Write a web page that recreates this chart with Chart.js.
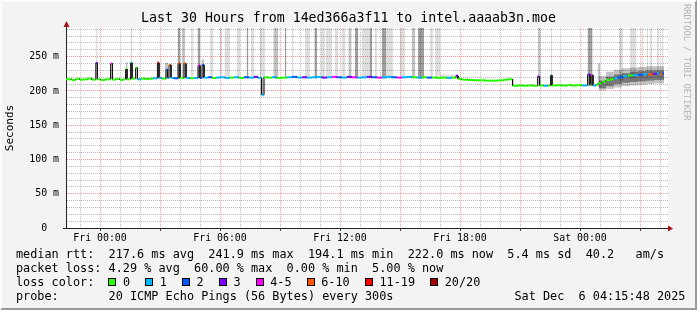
<!DOCTYPE html>
<html>
<head>
<meta charset="utf-8">
<script src="https://cdn.jsdelivr.net/npm/chart.js@4/dist/chart.umd.min.js"></script>
<style>
  html, body { margin: 0; padding: 0; background: #f3f3f3; }
  #frame { position: relative; width: 697px; height: 310px; background: #f3f3f3; overflow: hidden;
           font-family: 'DejaVu Sans Mono', monospace; color: #000; }
  #chart { position: absolute; left: 0; top: 0; }
  .row { position: absolute; left: 16px; font-size: 11.83px; line-height: 14px; white-space: pre; }
  .box { display: inline-block; width: 6px; height: 6px; border: 1px solid #000; margin: 0 6.6px 0 15.1px;
         vertical-align: top; position: relative; top: 3px; }
  .item:first-child .box { margin-left: 14px; }
  #brand { position: absolute; left: 682px; top: 4px; writing-mode: vertical-rl; font-size: 8.8px;
           line-height: 10px; color: #b4b4b4; white-space: pre; }
  #bevel { position: absolute; left: 0; top: 0; width: 697px; height: 310px; box-sizing: border-box;
           border: 2px solid; border-color: #fdfdfd #9a9a9a #9a9a9a #fdfdfd; pointer-events: none; }
</style>
</head>
<body>
<div id="frame">
  <canvas id="chart" width="697" height="310"></canvas>
  <div class="row" style="top:247px">median rtt:  217.6 ms avg  241.9 ms max  194.1 ms min  222.0 ms now  5.4 ms sd  40.2   am/s</div>
  <div class="row" style="top:261px">packet loss: 4.29 % avg  60.00 % max  0.00 % min  5.00 % now</div>
  <div class="row" id="lossRow" style="top:274.5px">loss color:</div>
  <div class="row" style="top:289px">probe:       20 ICMP Echo Pings (56 Bytes) every 300s                 Sat Dec  6 04:15:48 2025</div>
  <div id="brand">RRDTOOL / TOBI OETIKER</div>
  <div id="bevel"></div>
</div>
<script>
// ---- data (hours from Fri 00:00, values in ms) ----
const lossLabels = ['0', '1', '2', '3', '4-5', '6-10', '11-19', '20/20'];
const lossUpper  = [0, 1, 2, 3, 5, 10, 19, 20];
const lossColors = ['#26ff00', '#00b8ff', '#0059ff', '#7e00ff', '#ff00ff', '#ff5500', '#ff0000', '#a10000'];

const xLabelHours = [0, 6, 12, 18, 24];
const xLabels = ['Fri 00:00', 'Fri 06:00', 'Fri 12:00', 'Fri 18:00', 'Sat 00:00'];

// median rtt samples: sample i covers [medEnd[i-1], medEnd[i]]
const medStart = -1.7;
const medEnd = [
  -1.4, -1.2, -1.0, -0.8, -0.6, -0.4, -0.21, -0.13, 0.05, 0.25, 0.53, 0.62, 0.8, 1.0, 1.15, 1.28, 1.35, 1.53, 1.6, 1.78,
  1.87, 2.05, 2.25, 2.45, 2.65, 2.87, 2.95, 3.1, 3.3, 3.38, 3.45, 3.55, 3.7, 3.9, 4.0, 4.2, 4.3, 4.5, 4.7, 4.9,
  5.0, 5.1, 5.2,
  5.4, 5.6, 5.8, 6.0, 6.25, 6.5, 6.7, 6.95, 7.2, 7.45, 7.7, 7.9, 8.08, 8.2, 8.4, 8.6, 8.85, 9.1, 9.35, 9.6,
  9.85, 10.1, 10.35, 10.6, 10.85, 11.1, 11.35, 11.6, 11.85, 12.1, 12.35, 12.6, 12.85, 13.1, 13.35, 13.6, 13.85, 14.1,
  14.35, 14.6, 14.85, 15.1, 15.35, 15.6, 15.85, 16.1, 16.35, 16.6, 16.85, 17.1, 17.35, 17.6, 17.8, 17.9,
  18.1, 18.4, 18.7, 19.0, 19.3, 19.6, 19.9, 20.2, 20.4, 20.63,
  20.9, 21.15, 21.4, 21.65, 21.88, 21.98, 22.2, 22.4, 22.53, 22.6, 22.85, 23.1, 23.35, 23.6, 23.85, 24.1, 24.38, 24.5,
  24.55, 24.65, 24.8, 24.9,
  25.1, 25.3, 25.5, 25.7, 25.9, 26.15, 26.4, 26.65, 26.9, 27.15, 27.4, 27.65, 27.85, 28.0, 28.12, 28.2
];
const medMs = [
  217, 216, 217.5, 216.5, 217, 218, 216.5, 241, 217, 216, 217, 240, 216.5, 217.5, 216, 217, 232, 217, 241, 218,
  234, 217, 218, 217.5, 218, 218.5, 241, 219, 218, 231, 219, 238, 219, 218.5, 240, 219, 240, 219, 218.5, 219,
  237, 219, 238,
  219.5, 220, 219, 219.5, 220, 219, 219.5, 220, 219, 220, 219.5, 220.5, 219, 194.5, 220, 219.5, 220, 219, 219.5, 220,
  220.5, 219.5, 220, 219.5, 220, 220.5, 219.5, 220, 220.5, 220, 219.5, 220.5, 220, 219.5, 220, 220.5, 220, 219.5,
  220, 220.5, 220, 219.5, 220, 220.5, 220, 219.5, 220, 219.5, 219.5, 219, 219.5, 219, 219.5, 222,
  217.5, 216.5, 216, 215.5, 215.5, 215, 215, 215.5, 216.5, 217,
  207.5, 208, 207.5, 208, 207.5, 221, 208, 207.5, 208, 223, 208, 208.5, 208, 208.5, 208, 208.5, 208, 224,
  209, 223, 208, 209,
  211, 213.5, 216, 217, 218.5, 220, 221.5, 222.5, 223, 223.5, 224.5, 224, 225, 225.5, 225, 226
];
// lost pings out of 20 for each median sample
const medLoss = [
  0, 0, 0, 0, 0, 0, 0, 3, 0, 0, 0, 4, 0, 0, 0, 0, 0, 0, 1, 0,
  0, 1, 0, 0, 0, 1, 12, 1, 0, 2, 1, 7, 1, 2, 8, 0, 6, 1, 0, 1,
  4, 2, 2,
  1, 2, 0, 1, 1, 1, 0, 1, 0, 2, 1, 3, 1, 1, 0, 0, 1, 0, 0, 1,
  2, 1, 3, 1, 1, 1, 3, 1, 4, 2, 1, 3, 4, 1, 1, 3, 2, 4,
  1, 1, 2, 4, 1, 1, 0, 1, 0, 2, 0, 0, 0, 1, 0, 3,
  0, 0, 0, 0, 0, 0, 0, 0, 0, 0,
  0, 0, 0, 0, 0, 3, 0, 1, 0, 1, 0, 0, 0, 0, 0, 0, 1, 3,
  0, 4, 1, 0,
  0, 0, 0, 0, 1, 2, 1, 0, 1, 2, 1, 7, 3, 1, 8, 2
];

// smoke (spread of the 20 pings): time span, low/high ms, density level 1..3
const smokeFrom = [
  -0.22, 1.28, 1.52, 2.85, 3.25, 3.88, 4.1, 4.55, 4.88, 5.08, 5.5, 6.0, 6.22, 6.83, 7.33, 7.55, 8.0, 8.67, 9.25, 9.58,
  10.25, 10.72, 11.05, 11.3, 11.75, 12.08, 12.42, 12.75, 13.08, 13.5, 13.75, 14.1, 14.3, 15.0, 15.6, 15.9, 16.5, 16.75, 17.0,
  21.9, 22.53, 24.38, 24.88, 25.95, 26.5, 27.08, 27.33, 27.5, 27.83, 28.08,
  24.95, 25.3, 25.7, 26.1, 26.5, 26.9, 27.3, 27.7,
  24.95, 25.3, 25.7, 26.1, 26.5, 26.9, 27.3, 27.7
];
const smokeTo = [
  -0.12, 1.38, 1.63, 2.95, 3.42, 4.02, 4.25, 4.68, 5.0, 5.22, 5.68, 6.12, 6.5, 7.0, 7.42, 7.72, 8.25, 8.92, 9.32, 9.68,
  10.5, 10.85, 11.25, 11.62, 11.92, 12.28, 12.58, 12.92, 13.5, 13.6, 13.85, 14.3, 14.65, 15.25, 15.75, 16.2, 16.65, 17.0, 17.9,
  22.03, 22.62, 24.63, 25.0, 26.15, 26.83, 27.18, 27.42, 27.62, 27.95, 28.18,
  25.3, 25.7, 26.1, 26.5, 26.9, 27.3, 27.7, 28.2,
  25.3, 25.7, 26.1, 26.5, 26.9, 27.3, 27.7, 28.2
];
const smokeLo = [
  216, 216, 216, 217, 217, 217, 217, 218, 218, 218, 218, 218, 218, 218, 218, 218, 192, 218, 218, 218,
  218, 218, 218, 218, 218, 218, 218, 218, 218, 218, 218, 218, 218, 218, 218, 218, 218, 218, 218,
  207, 207, 207, 206, 215, 218, 219, 219, 219, 220, 220,
  201, 203, 205, 207, 208, 209, 210, 211,
  204, 207, 210, 212, 213, 214, 215, 216
];
const smokeHi = [
  400, 242, 400, 244, 241, 400, 400, 400, 400, 246, 400, 400, 400, 400, 400, 400, 400, 400, 400, 400,
  400, 400, 400, 400, 400, 400, 400, 400, 400, 400, 400, 400, 400, 400, 400, 400, 400, 400, 224,
  400, 400, 400, 240, 400, 400, 400, 400, 400, 400, 400,
  222, 228, 231, 233, 234, 235, 236, 236,
  215, 221, 224, 226, 228, 229, 230, 230
];
const smokeLevel = [
  1, 2, 1, 1, 2, 3, 2, 1, 3, 2, 1, 1, 1, 1, 3, 1, 1, 2, 3, 1,
  1, 3, 1, 1, 1, 1, 2, 3, 1, 3, 1, 3, 1, 1, 2, 3, 1, 1, 1,
  2, 1, 3, 2, 1, 1, 1, 1, 1, 1, 1,
  2, 2, 2, 2, 2, 2, 2, 2,
  3, 3, 3, 3, 3, 3, 3, 3
];

// ---- styling ----
const FONT = "'DejaVu Sans Mono', monospace";
const SMOKE_SHADES = ['rgba(0,0,0,0.13)', 'rgba(0,0,0,0.24)', 'rgba(0,0,0,0.38)'];
const MINOR_GRID = 'rgba(128,128,128,0.55)';
const MAJOR_GRID = 'rgba(255,0,0,0.42)';
const AXIS_COLOR = '#222';
const ARROW_COLOR = '#a31515';

const lossColor = n => lossColors[lossUpper.findIndex(u => n <= u)];

// loss colour legend row
const lossRow = document.getElementById('lossRow');
lossLabels.forEach((label, i) => {
    const item = document.createElement('span');
    item.className = 'item';
    const box = document.createElement('span');
    box.className = 'box';
    box.style.background = lossColors[i];
    item.append(box, label);
    lossRow.append(item);
});

// median as horizontal steps per sample, black risers in between
const medianPoints = [];
medEnd.forEach((end, i) => {
    const start = i === 0 ? medStart : medEnd[i - 1];
    medianPoints.push({ x: start, y: medMs[i] }, { x: end, y: medMs[i] });
});

const smokeSets = smokeFrom.map((from, i) => ({
    type: 'line',
    data: [{ x: from, y: smokeHi[i] }, { x: smokeTo[i], y: smokeHi[i] }],
    fill: { value: smokeLo[i] },
    backgroundColor: SMOKE_SHADES[smokeLevel[i] - 1],
    borderWidth: 0,
    pointRadius: 0,
    order: 2
}));

const plotBackground = {
    id: 'plotBackground',
    beforeDraw(chart) {
        const { ctx, chartArea: a } = chart;
        ctx.save();
        ctx.fillStyle = '#ffffff';
        ctx.fillRect(a.left, a.top, a.right - a.left, a.bottom - a.top);
        ctx.restore();
    }
};

const axisArrows = {
    id: 'axisArrows',
    afterDraw(chart) {
        const { ctx, chartArea: a } = chart;
        const xl = Math.round(a.left) + 0.5;
        const yb = Math.round(a.bottom) + 0.5;
        ctx.save();
        ctx.strokeStyle = AXIS_COLOR;
        ctx.lineWidth = 1;
        ctx.beginPath();
        ctx.moveTo(xl, a.top);
        ctx.lineTo(xl, a.top - 2);
        ctx.stroke();
        ctx.fillStyle = ARROW_COLOR;
        ctx.beginPath();
        ctx.moveTo(a.right, yb - 3);
        ctx.lineTo(a.right + 5, yb);
        ctx.lineTo(a.right, yb + 3);
        ctx.closePath();
        ctx.fill();
        ctx.beginPath();
        ctx.moveTo(xl - 3, a.top - 1);
        ctx.lineTo(xl, a.top - 7);
        ctx.lineTo(xl + 3, a.top - 1);
        ctx.closePath();
        ctx.fill();
        ctx.restore();
    }
};

new Chart(document.getElementById('chart').getContext('2d'), {
    type: 'line',
    data: {
        datasets: [
            {
                data: medianPoints,
                borderColor: '#111',
                borderWidth: 1,
                pointRadius: 0,
                fill: false,
                tension: 0,
                order: 0,
                segment: {
                    borderColor: c => c.p0DataIndex % 2 === 0 ? lossColor(medLoss[c.p0DataIndex >> 1]) : '#111',
                    borderWidth: c => c.p0DataIndex % 2 === 0 ? 2 : 1
                }
            },
            ...smokeSets
        ]
    },
    options: {
        responsive: false,
        devicePixelRatio: 1,
        animation: false,
        events: [],
        layout: { padding: 0 },
        plugins: {
            legend: { display: false },
            tooltip: { enabled: false },
            title: {
                display: true,
                text: 'Last 30 Hours from 14ed366a3f11 to intel.aaaab3n.moe',
                color: '#000',
                font: { family: FONT, size: 13.25, weight: 'normal' },
                padding: { top: 11, bottom: 1 }
            }
        },
        scales: {
            x: {
                type: 'linear',
                min: -1.7,
                max: 28.4,
                afterBuildTicks: s => {
                    const t = [];
                    for (let h = -1; h <= 28; h++) t.push({ value: h });
                    s.ticks = t;
                },
                afterFit: s => { s.height = 82; },
                ticks: {
                    autoSkip: false, maxRotation: 0, minRotation: 0, padding: 1, color: '#000',
                    font: { family: FONT, size: 9.9 },
                    callback: v => {
                        const i = xLabelHours.indexOf(v);
                        return i >= 0 ? xLabels[i] : '';
                    }
                },
                grid: {
                    color: c => c.tick && c.tick.value % 3 === 0 ? MAJOR_GRID : MINOR_GRID,
                    tickLength: 3,
                    tickColor: c => c.tick && c.tick.value % 3 === 0 ? '#444' : 'rgba(0,0,0,0)'
                },
                border: { color: AXIS_COLOR, width: 1, dash: [1, 1] }
            },
            y: {
                min: 0,
                max: 292,
                afterBuildTicks: s => {
                    const t = [];
                    for (let v = 0; v <= 290; v += 10) t.push({ value: v });
                    s.ticks = t;
                },
                afterFit: s => { s.width = 66; },
                ticks: {
                    autoSkip: false, padding: 4, color: '#000',
                    font: { family: FONT, size: 9.9 },
                    callback: v => v % 50 !== 0 ? '' : (v === 0 ? '0  ' : v + ' m')
                },
                grid: {
                    color: c => c.tick && c.tick.value % 50 === 0 ? MAJOR_GRID : MINOR_GRID,
                    tickLength: 3,
                    tickColor: c => c.tick && c.tick.value === 0 ? AXIS_COLOR : 'rgba(0,0,0,0)'
                },
                border: { color: AXIS_COLOR, width: 1, dash: [1, 1] },
                title: {
                    display: true, text: 'Seconds', color: '#000',
                    font: { family: FONT, size: 11 },
                    padding: { top: 3.4, bottom: 0 }
                }
            },
            // empty right-hand gutter (keeps the title centred on the whole image)
            gutter: {
                type: 'linear',
                axis: 'y',
                position: 'right',
                grid: { display: false },
                ticks: { display: false },
                border: { display: false },
                afterFit: s => { s.width = 29; }
            }
        }
    },
    plugins: [plotBackground, axisArrows]
});
</script>
</body>
</html>
